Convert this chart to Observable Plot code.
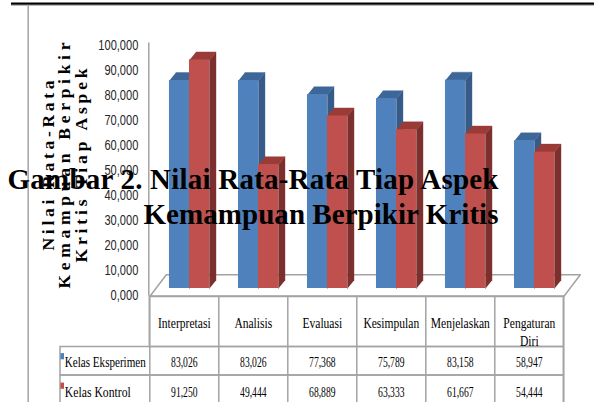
<!DOCTYPE html>
<html><head><meta charset="utf-8">
<script src="https://cdn.jsdelivr.net/npm/d3@7"></script>
<script src="https://cdn.jsdelivr.net/npm/@observablehq/plot@0.6"></script>
<style>body{margin:0;background:#fff;} svg{display:block}</style>
</head><body><div id="chart"></div>
<script>
// ---- data ----
const categories = ["Interpretasi", "Analisis", "Evaluasi", "Kesimpulan", "Menjelaskan", "Pengaturan\nDiri"];
const seriesNames = ["Kelas Eksperimen", "Kelas Kontrol"];
const eksperimen = [83.026, 83.026, 77.368, 75.789, 83.158, 58.947];
const kontrol = [91.250, 49.444, 68.889, 63.333, 61.667, 54.444];
const yTicks = [0, 10, 20, 30, 40, 50, 60, 70, 80, 90, 100];
const titleLines = ["Gambar 2. Nilai Rata-Rata Tiap Aspek", "Kemampuan Berpikir Kritis"];
const yTitleLines = ["Nilai Rata-Rata", "Kemampuan Berpikir", "Kritis Tiap Aspek"];

// ---- styling / layout ----
const colors = {
  front: ["#4f81bd", "#c0504d"],
  top: ["#3e6799", "#9a3b38"],
  side: ["#375b88", "#7c2f2d"]
};
const W = 594, H = 402;
const X_RANGE = [149.3, 563.3], Y_RANGE = [288, 37.5];
const xu = (X_RANGE[1] - X_RANGE[0]) / categories.length; // px per category
const yu = (Y_RANGE[0] - Y_RANGE[1]) / 100;                // px per unit
const DX = 6.5 / xu, DY = 8 / yu;                           // bar depth
const barOffset = [0.285, 0.575], barW = 0.29;
const values = [eksperimen, kontrol];
const loc = d3.formatLocale({decimal: ",", thousands: ".", grouping: [3], currency: ["", ""]});
const fmt = loc.format(".3f");
const grid = "#a3a3a3";
const serif = "'Liberation Serif', 'Times New Roman', serif";
const sans = "'Liberation Sans', Arial, sans-serif";

const bars = values.flatMap((vals, s) => vals.map((v, i) => {
  const x1 = i + barOffset[s], x2 = x1 + barW;
  return {s, i, x1, x2, v};
}));
const poly = (b, pts, kind) => pts.map(([x, y]) => ({s: b.s, id: kind + b.s + "-" + b.i, x, y}));
const tops = bars.flatMap(b => poly(b, [[b.x1, b.v], [b.x2, b.v], [b.x2 + DX, b.v + DY], [b.x1 + DX, b.v + DY]], "t"));
const sides = bars.flatMap(b => poly(b, [[b.x2, 0], [b.x2, b.v], [b.x2 + DX, b.v + DY], [b.x2 + DX, DY]], "s"));

// floor (3D base plate)
const fFront = -8 / yu, fDepthX = 16.5 / xu, fDepthY = 21.7 / yu;
const floor = [[0, fFront], [categories.length, fFront], [categories.length + fDepthX, fFront + fDepthY], [fDepthX, fFront + fDepthY], [0, fFront]].map(([x, y]) => ({x, y}));

const barMarks = [0, 1].flatMap(s => [
  Plot.line(sides.filter(d => d.s === s), {x: "x", y: "y", z: "id", fill: colors.side[s], stroke: colors.side[s], strokeWidth: 0.4}),
  Plot.line(tops.filter(d => d.s === s), {x: "x", y: "y", z: "id", fill: colors.top[s], stroke: colors.top[s], strokeWidth: 0.4}),
  Plot.rect(bars.filter(d => d.s === s), {x1: "x1", x2: "x2", y1: () => 0, y2: "v", fill: colors.front[s]})
]);

const rowBase = [366.5, 396];

const chart = Plot.plot({
  width: W, height: H,
  marginTop: 0, marginRight: 0, marginBottom: 0, marginLeft: 0,
  style: {background: "white", overflow: "visible"},
  x: {domain: [0, categories.length], range: X_RANGE, axis: null},
  y: {domain: [0, 100], range: Y_RANGE, axis: null},
  marks: [
    // page decorations
    Plot.rect([0], {insetLeft: 11, insetTop: 2.5, insetBottom: H - 4.8, fill: "black"}),
    Plot.rect([0], {insetLeft: 11, insetTop: 4.8, insetBottom: H - 5.6, fill: "#8a8a8a"}),
    Plot.rect([0], {insetLeft: 27.4, insetRight: W - 29, insetTop: 5.6, fill: "#aaaaaa"}),
    // floor and axis
    Plot.line(floor, {x: "x", y: "y", fill: "white", stroke: grid, strokeWidth: 1.5}),
    Plot.ruleX([0], {y1: 0, y2: 101, dx: -1, dy: 7.5, stroke: grid, strokeWidth: 1.5}),
    Plot.text(yTicks, {x: () => 0, y: d => d, text: d => fmt(d), textAnchor: "end", dx: -11.5, dy: 7.5,
      fontSize: 14, fontFamily: sans, fill: "#262626", ariaDescription: "ytick"}),
    // bars
    ...barMarks,
    // data table
    Plot.rect([0], {x1: () => 0, x2: () => categories.length, insetTop: 296, insetBottom: H - 346.5, fill: "none", stroke: grid, strokeWidth: 1.5}),
    Plot.rect([0], {x1: () => 0, x2: () => categories.length, insetLeft: -89.3, insetTop: 346.5, insetBottom: H - 375, fill: "none", stroke: grid, strokeWidth: 1.5}),
    Plot.rect([0], {x1: () => 0, x2: () => categories.length, insetLeft: -89.3, insetTop: 375, insetBottom: -6, fill: "none", stroke: grid, strokeWidth: 1.5}),
    Plot.ruleX(d3.range(categories.length + 1), {x: d => d, insetTop: 296, stroke: grid, strokeWidth: 1.5}),
    Plot.text(categories, {x: (d, i) => i + 0.5, frameAnchor: "top", dy: 314.4, lineAnchor: "top", lineHeight: 1.2,
      fontSize: 15, fontFamily: serif, fill: "black", ariaDescription: "header"}),
    ...[0, 1].flatMap(s => [
      Plot.text(values[s], {x: (d, i) => i + 0.5, text: d => fmt(d), frameAnchor: "top", dy: rowBase[s], lineAnchor: "bottom",
        fontSize: 15, fontFamily: serif, fill: "black", ariaDescription: "cell"}),
      Plot.text([seriesNames[s]], {x: () => 0, dx: -85, frameAnchor: "top", dy: rowBase[s], lineAnchor: "bottom", textAnchor: "start",
        fontSize: 15, fontFamily: serif, fill: "black", ariaDescription: "legend" + s}),
      Plot.rect([seriesNames[s]], {x1: () => 0, x2: () => 0, insetLeft: -88.9, insetRight: 85.3,
        insetTop: rowBase[s] - 13.4, insetBottom: H - (rowBase[s] - 7.2), fill: colors.front[s]})
    ]),
    // y axis title
    Plot.text([yTitleLines.join("\n")], {frameAnchor: "top-left", dx: 64.5, dy: 165, rotate: -90, textAnchor: "middle",
      lineAnchor: "middle", lineHeight: 16.8 / 17.5, fontSize: 17.5, fontWeight: "bold", fontFamily: serif, fill: "black",
      ariaDescription: "ytitle"}),
    // document caption overlay
    Plot.text([titleLines.join("\n")], {frameAnchor: "top-left", dx: 498, dy: 223, textAnchor: "end", lineAnchor: "bottom",
      lineHeight: 35 / 29, fontSize: 29, fontWeight: "bold", fontFamily: serif, fill: "black", ariaDescription: "title"})
  ]
});
document.getElementById("chart").append(chart);

// condense / spread text to match the reference's glyph widths
function fit(label, fn, adjust = "spacingAndGlyphs") {
  chart.querySelectorAll(`g[aria-description="${label}"] text`).forEach((t, k) => {
    const spans = t.querySelectorAll("tspan");
    const els = spans.length ? [...spans] : [t];
    els.forEach((el, j) => {
      const w = fn(el.getComputedTextLength(), k, j);
      el.setAttribute("textLength", w);
      el.setAttribute("lengthAdjust", adjust);
    });
  });
}
fit("ytick", w => w * 0.79);
fit("header", w => w * 0.77);
fit("cell", w => w * 0.64);
fit("legend0", () => 81);
fit("legend1", () => 66);
fit("ytitle", (w, k, j) => [170, 246, 194][j], "spacing");
fit("title", (w, k, j) => [491, 355][j], "spacing");
</script>
</body></html>
